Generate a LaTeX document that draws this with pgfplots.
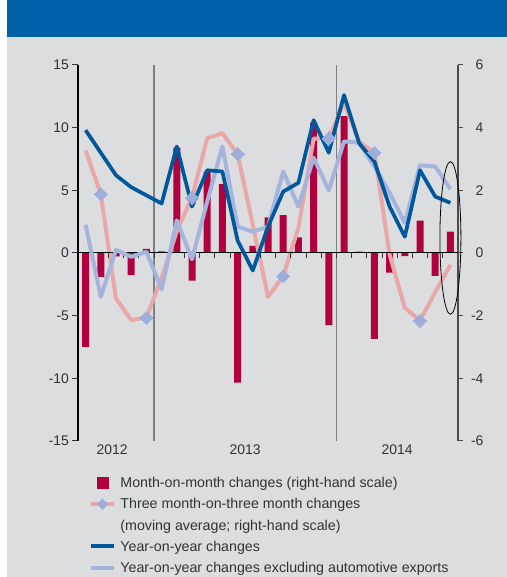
\documentclass[border=0pt]{standalone}
\usepackage{fontspec}
\setmainfont{Liberation Sans}
\usepackage{pgfplots}
\usepackage{pgfplotstable}
\pgfplotsset{compat=1.18}
\definecolor{hdrblue}{RGB}{0,96,169}
\definecolor{panel}{RGB}{220,221,223}
\definecolor{barred}{RGB}{176,0,62}
\definecolor{dblue}{RGB}{0,88,156}
\definecolor{lblue}{RGB}{165,180,221}
\definecolor{pinkl}{RGB}{233,168,167}
\definecolor{diam}{RGB}{157,174,218}
\definecolor{txt}{RGB}{50,50,50}
\definecolor{sepc}{RGB}{128,128,128}

\pgfplotstableread{
i v
0 -3.0
1 -0.77
2 -0.11
3 -0.71
4 0.13
5 0.05
6 3.36
7 -0.88
8 2.6
9 2.2
10 -4.14
11 0.23
12 1.14
13 1.21
14 0.5
15 4.16
16 -2.3
17 4.37
18 0.04
19 -2.74
20 -0.63
21 -0.1
22 1.03
23 -0.73
24 0.68
}\mom

\pgfplotstableread{
i v
0 3.27
1 1.88
2 -1.45
3 -2.14
4 -2.06
5 -0.8
6 0.7
7 1.77
8 3.66
9 3.82
10 3.16
11 0.9
12 -1.4
13 -0.74
14 0.8
15 3.65
16 3.66
17 4.8
18 3.55
19 3.2
20 -0.05
21 -1.75
22 -2.16
23 -1.25
24 -0.38
}\tmt

\pgfplotstableread{
i v
1 1.88
4 -2.06
7 1.77
10 3.16
13 -0.74
16 3.66
19 3.2
22 -2.16
}\quarter

\pgfplotstableread{
i v
0 9.8
1 8.0
2 6.2
3 5.25
4 4.6
5 3.95
6 8.5
7 3.7
8 6.6
9 6.5
10 1.0
11 -1.4
12 2.1
13 4.9
14 5.6
15 10.6
16 8.0
17 12.6
18 8.75
19 7.3
20 3.7
21 1.3
22 6.6
23 4.5
24 4.0
}\yoy

\pgfplotstableread{
i v
0 2.25
1 -3.5
2 0.24
3 -0.3
4 0.1
5 -2.9
6 2.6
7 -0.5
8 4.1
9 8.5
10 2.1
11 1.7
12 2.1
13 6.5
14 3.7
15 7.6
16 5.0
17 8.9
18 8.8
19 6.9
20 4.8
21 2.4
22 7.0
23 6.9
24 5.1
}\yoyex

\pgfplotsset{
  base/.style={scale only axis, width=380bp, height=376bp, at={(0,0)}, anchor=south west,
    xmin=-0.5, xmax=24.5, clip=false,
    /pgf/number format/assume math mode=true,
    tick label style={font=\fontsize{14}{14}\selectfont, text=txt},
  },
}

\begin{document}
\begin{tikzpicture}[x=1bp,y=1bp]
\useasboundingbox (-78,-136) rectangle (429,441);
\fill[white] (-78,-136) rectangle (429,441);
\fill[panel] (-71,-136) rectangle (429,404);
\fill[hdrblue] (-71,404) rectangle (429,441);

% right scale: bars and 3m/3m line
\begin{axis}[base, ymin=-6, ymax=6,
  axis x line=none, axis y line*=right,
  y axis line style={-, line width=1.2bp, black!70},
  ytick={-6,-4,...,6}, tick align=outside, major tick length=5bp,
  major tick style={line width=1bp, black!70},
  yticklabel style={anchor=east, xshift=24bp},
]
\draw[sepc, line width=1.3bp] (axis cs:4.5,-6) -- (axis cs:4.5,6);
\draw[sepc, line width=1.3bp] (axis cs:16.5,-6) -- (axis cs:16.5,6);
\addplot[ybar, bar width=7bp, fill=barred, draw=none] table[x=i,y=v] {\mom};
\addplot[pinkl, line width=4bp, line join=round] table[x=i,y=v] {\tmt};
\end{axis}

% left scale: year-on-year lines
\begin{axis}[base, ymin=-15, ymax=15,
  axis x line=middle, axis y line*=left,
  x axis line style={-, line width=1bp, black},
  y axis line style={-, line width=1.2bp, black},
  xtick={0.5,1.5,...,23.5}, xticklabels={},
  ytick={-15,-10,...,15},
  tick align=outside, major tick length=5.5bp,
  major tick style={line width=1bp, black!80},
  yticklabel style={anchor=east},
]
\addplot[lblue, line width=4bp, line join=round] table[x=i,y=v] {\yoyex};
\addplot[dblue, line width=3.7bp, line join=round] table[x=i,y=v] {\yoy};
\node[font=\fontsize{14}{14}\selectfont, text=txt] at (axis cs:1.75,-15) [yshift=-9bp] {2012};
\node[font=\fontsize{14}{14}\selectfont, text=txt] at (axis cs:10.5,-15) [yshift=-9bp] {2013};
\node[font=\fontsize{14}{14}\selectfont, text=txt] at (axis cs:20.5,-15) [yshift=-9bp] {2014};
\end{axis}

% right scale: diamonds, ellipse, legend
\begin{axis}[base, ymin=-6, ymax=6, hide axis,
  legend style={at={(0,0)}, anchor=north west, xshift=11bp, yshift=-31.1bp,
    draw=none, fill=none, inner sep=0pt, outer sep=0pt, row sep=0pt, column sep=4.4bp,
    font=\fontsize{14.3}{14.3}\selectfont, text=txt,
    nodes={text height=15.6bp, text depth=5.6bp, inner sep=0pt}},
  legend cell align=left,
  legend image code/.code={\draw[mark repeat=2, mark phase=2, #1] plot coordinates {(0bp,0bp) (11.5bp,0bp) (23bp,0bp)};},
]
\addplot[diam, only marks, mark=square*, mark size=4.6bp, mark options={fill=diam, draw=diam, line width=0pt, rotate=45}, forget plot] table[x=i,y=v] {\quarter};
\draw[black, line width=0.8bp] (axis cs:24,0.48) ellipse [x radius=10.5bp, y radius=76.3bp];
\addlegendimage{legend image code/.code={\fill[barred] (6bp,-5.5bp) rectangle (17bp,5.5bp);}}
\addlegendentry{Month-on-month changes (right-hand scale)}
\addlegendimage{pinkl, line width=4bp, mark=square*, mark size=3.7bp, mark options={fill=diam, draw=diam, line width=0pt, rotate=45}}
\addlegendentry{Three month-on-three month changes}
\addlegendimage{empty legend}
\addlegendentry{(moving average; right-hand scale)}
\addlegendimage{dblue, line width=3.7bp}
\addlegendentry{Year-on-year changes}
\addlegendimage{lblue, line width=4bp}
\addlegendentry{Year-on-year changes excluding automotive exports}
\end{axis}
\end{tikzpicture}
\end{document}
